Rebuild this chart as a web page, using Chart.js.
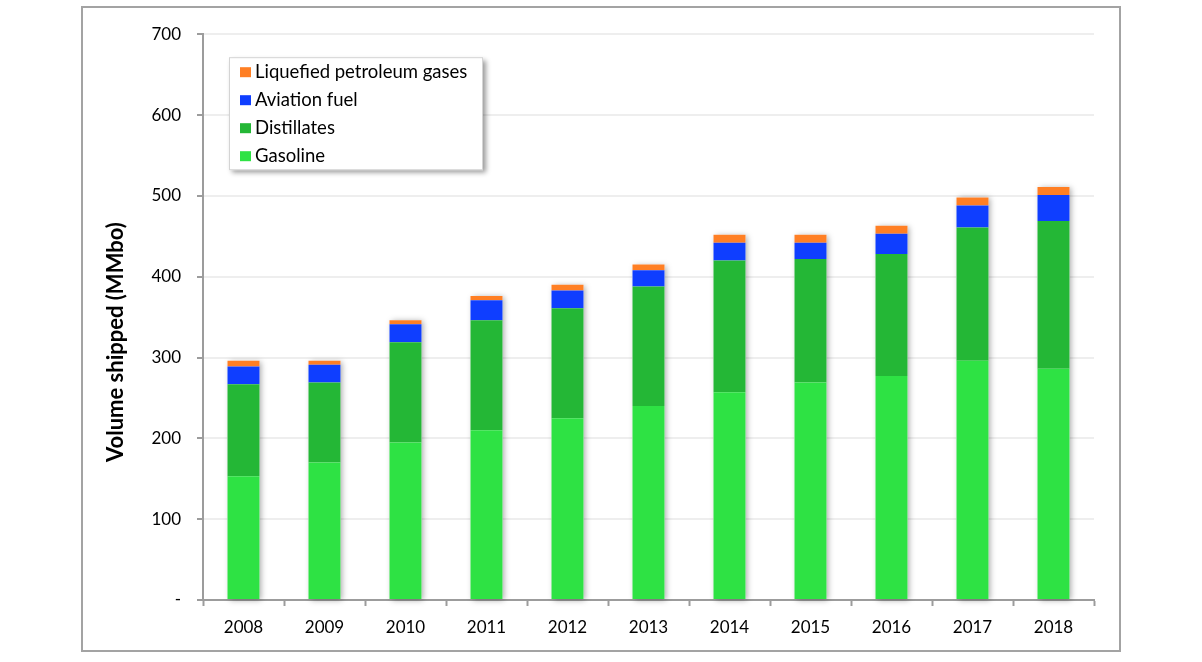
<!DOCTYPE html>
<html>
<head>
<meta charset="utf-8">
<script src="https://cdn.jsdelivr.net/npm/chart.js@4.4.1/dist/chart.umd.min.js"></script>
<style>
  body { margin: 0; background: #fff; }
  #frame {
    position: absolute;
    left: 81px;
    top: 6px;
    width: 1036px;
    height: 642px;
    border: 2px solid #a3a3a3;
  }
</style>
</head>
<body>
<div id="frame"><canvas id="shipChart" width="1036" height="642"></canvas></div>
<script>
// Volume shipped by product (MMbo)
const years = ['2008', '2009', '2010', '2011', '2012', '2013', '2014', '2015', '2016', '2017', '2018'];
const gasoline = [153, 170, 195, 210, 225, 240, 257, 269, 277, 296, 286];
const distillates = [114, 99, 124, 136, 136, 148, 163, 153, 151, 165, 183];
const aviationFuel = [22, 22, 22, 25, 22, 20, 22, 20, 25, 27, 32];
const lpg = [7, 5, 5, 5, 7, 7, 10, 10, 10, 10, 10];

const yTitle = 'Volume shipped (MMbo)';
const fontFamily = 'Lato, "Open Sans", sans-serif';

// soft shadow behind each stacked column
const barShadow = {
    id: 'barShadow',
    beforeDatasetsDraw(chart) {
        const ctx = chart.ctx;
        const first = chart.getDatasetMeta(0).data;
        const last = chart.getDatasetMeta(chart.data.datasets.length - 1).data;
        ctx.save();
        ctx.shadowColor = 'rgba(0,0,0,0.35)';
        ctx.shadowBlur = 6;
        ctx.shadowOffsetX = 2;
        ctx.shadowOffsetY = 1;
        ctx.fillStyle = '#fff';
        first.forEach((bar, i) => {
            const top = last[i].y;
            ctx.fillRect(bar.x - bar.width / 2, top, bar.width, bar.base - top);
        });
        ctx.restore();
    }
};

// boxed legend inside the plot, like the original
const boxLegend = {
    id: 'boxLegend',
    afterDraw(chart) {
        const ctx = chart.ctx;
        const area = chart.chartArea;
        const x = area.left + 26;
        const y = area.top + 23;
        const w = 254;
        const h = 113;
        ctx.save();
        ctx.shadowColor = 'rgba(0,0,0,0.4)';
        ctx.shadowBlur = 5;
        ctx.shadowOffsetX = 3;
        ctx.shadowOffsetY = 3;
        ctx.fillStyle = '#fff';
        ctx.fillRect(x, y, w, h);
        ctx.restore();

        ctx.save();
        ctx.strokeStyle = '#d4d4d4';
        ctx.lineWidth = 1;
        ctx.strokeRect(x + 0.5, y + 0.5, w - 1, h - 1);
        ctx.font = '18.5px ' + fontFamily;
        ctx.textBaseline = 'middle';
        const items = chart.data.datasets.slice().reverse();
        items.forEach((ds, i) => {
            const cy = y + 15 + i * 28;
            ctx.fillStyle = ds.backgroundColor;
            ctx.fillRect(x + 11, cy - 5, 11, 10);
            ctx.fillStyle = '#000';
            ctx.fillText(ds.label, x + 26, cy);
        });
        ctx.restore();
    }
};

// y axis title, centred on the whole frame height
const axisTitle = {
    id: 'axisTitle',
    afterDraw(chart) {
        const ctx = chart.ctx;
        ctx.save();
        ctx.translate(33, (chart.chartArea.top + chart.height) / 2);
        ctx.rotate(-Math.PI / 2);
        ctx.font = 'bold 22px ' + fontFamily;
        ctx.fillStyle = '#000';
        ctx.textAlign = 'center';
        ctx.textBaseline = 'middle';
        ctx.fillText(yTitle, 0, 0);
        ctx.restore();
    }
};

const ctx = document.getElementById('shipChart').getContext('2d');
new Chart(ctx, {
    type: 'bar',
    data: {
        labels: years,
        datasets: [
            { label: 'Gasoline', data: gasoline, backgroundColor: '#2ee244' },
            { label: 'Distillates', data: distillates, backgroundColor: '#24b736' },
            { label: 'Aviation fuel', data: aviationFuel, backgroundColor: '#0f3eff' },
            { label: 'Liquefied petroleum gases', data: lpg, backgroundColor: '#ff7f24' },
        ],
    },
    options: {
        responsive: false,
        animation: false,
        layout: { padding: { top: 26, right: 25, bottom: 0, left: 0 } },
        datasets: {
            bar: { categoryPercentage: 1, barPercentage: 0.395 },
        },
        plugins: {
            legend: { display: false },
            tooltip: { enabled: false },
        },
        scales: {
            x: {
                stacked: true,
                afterFit(scale) { scale.height = 50; },
                border: { color: '#9c9c9c', width: 2 },
                grid: {
                    offset: true,
                    drawOnChartArea: false,
                    tickLength: 6,
                    tickColor: '#9c9c9c',
                    tickWidth: 2,
                },
                ticks: {
                    color: '#000',
                    padding: 11,
                    maxRotation: 0,
                    font: { family: fontFamily, size: 17 },
                },
            },
            y: {
                stacked: true,
                min: 0,
                max: 700,
                afterFit(scale) { scale.width = 120; },
                border: { color: '#9c9c9c', width: 2 },
                grid: {
                    color: '#eeeeee',
                    lineWidth: 2,
                    tickLength: 6,
                    tickColor: '#9c9c9c',
                    tickWidth: 2,
                },
                ticks: {
                    stepSize: 100,
                    color: '#000',
                    padding: 16,
                    font: { family: fontFamily, size: 17 },
                    callback: (value) => (value === 0 ? '-' : value),
                },
            },
        },
    },
    plugins: [barShadow, boxLegend, axisTitle],
});
</script>
</body>
</html>
